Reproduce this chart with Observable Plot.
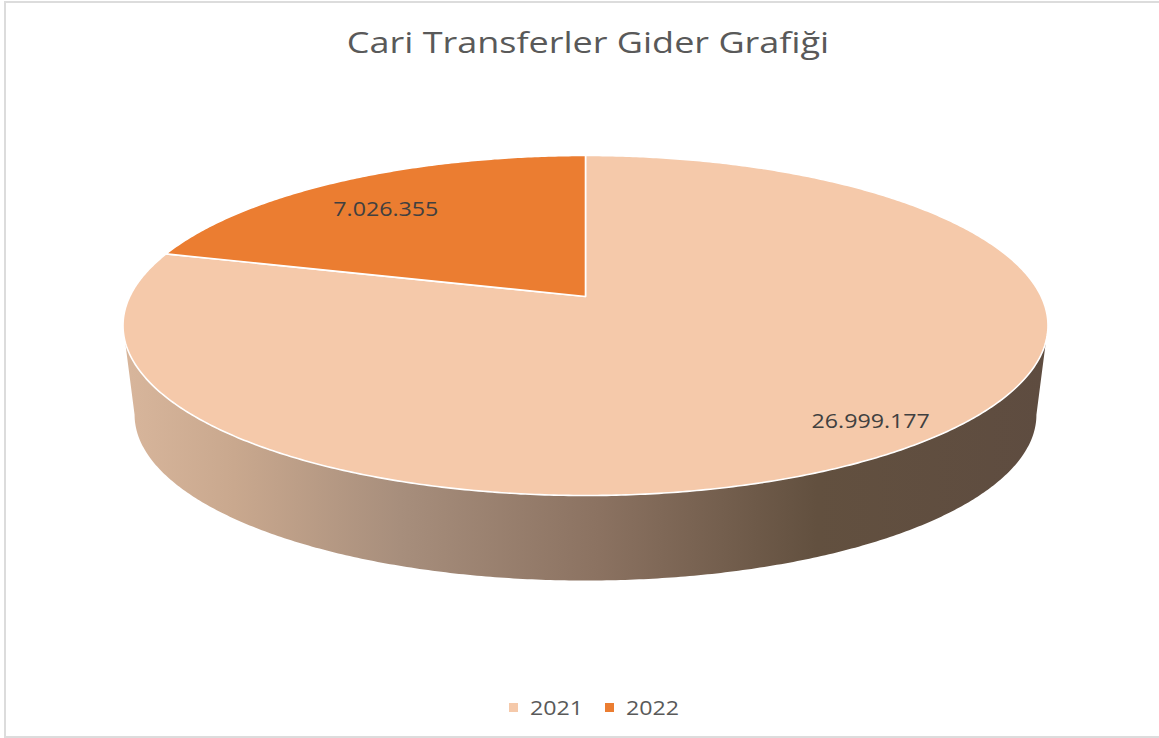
<!DOCTYPE html>
<html>
<head>
<meta charset="utf-8">
<script src="https://cdn.jsdelivr.net/npm/d3@7"></script>
<script src="https://cdn.jsdelivr.net/npm/@observablehq/plot@0.6"></script>
<style>
  html, body { margin: 0; padding: 0; background: #fff; overflow: hidden; }
  body { width: 1159px; height: 738px; position: relative; font-family: "Open Sans", sans-serif; }
  #frame { position: absolute; left: 4px; top: 1px; width: 1170px; height: 737px; border: 2px solid #dcdcdc; box-sizing: border-box; }
  #title { position: absolute; left: 588px; top: 27px; transform: translateX(-50%) scaleX(1.2); white-space: nowrap;
           font: 30px/30px "Open Sans", sans-serif; color: #595959; }
  #chart { position: absolute; left: 0; top: 80px; }
  .sw { position: absolute; top: 703px; width: 9px; height: 9px; }
  .lt { position: absolute; top: 698px; font: 19.5px/20px "Open Sans", sans-serif; color: #595959; transform: scaleX(1.19); transform-origin: left center; white-space: nowrap; }
</style>
</head>
<body>
<div id="frame"></div>
<div id="title">Cari Transferler Gider Grafiği</div>
<div id="chart"></div>
<div id="legend"></div>
<script>
// ---- data ----
const years = ["2021", "2022"];
const values = [26999177, 7026355];
const valueLabels = ["26.999.177", "7.026.355"];
const colors = ["#f5c9aa", "#eb7d31"];

// ---- layout / projection constants ----
const W = 1159, H = 600;
const S = 455.7;            // pixels per pie radius
const CX = 585, CY = 216;   // pie centre inside the svg
const K = -0.1706;          // perspective factor
const TILT = 0.3622;        // vertical squash of the pie plane
const DEPTH = 90 / S;       // thickness of the pie
const SHRINK = 0.975;       // bottom face slightly smaller (perspective)
const LABEL_R = [0.87, 0.754];
const LABEL_SHIFT = [-0.042, -0.044];

function project(u, v, bottom = false) {
  const w = 1 + K * v;
  const s = bottom ? SHRINK : 1;
  return {x: s * u / w, y: (bottom ? DEPTH : 0) + s * TILT * v / w};
}

const table = years.map((year, i) => ({year, value: values[i], label: valueLabels[i]}));
const arcs = d3.pie().sort(null).value(d => d.value)(table);
const STEP = Math.PI / 360;

function arcPoints(a0, a1, bottom, extra) {
  const n = Math.max(2, Math.ceil(Math.abs(a1 - a0) / STEP));
  const pts = [];
  for (let j = 0; j <= n; j++) {
    const t = a0 + (a1 - a0) * j / n;
    pts.push({...extra, ...project(Math.sin(t), -Math.cos(t), bottom)});
  }
  return pts;
}

const slicePts = arcs.flatMap(a => [
  {year: a.data.year, ...project(0, 0)},
  ...arcPoints(a.startAngle, a.endAngle, false, {year: a.data.year})
]);

const t0 = Math.acos(K), t1 = 2 * Math.PI - t0;
const sidePts = [
  ...arcPoints(t0, t1, false, {}),
  ...arcPoints(t1, t0, true, {})
];

const labelPts = arcs.map((a, i) => {
  const t = (a.startAngle + a.endAngle) / 2 + LABEL_SHIFT[i];
  const r = LABEL_R[i];
  return {label: a.data.label, ...project(r * Math.sin(t), -r * Math.cos(t))};
});

const plot = Plot.plot({
  width: W, height: H,
  margin: 0,
  x: {domain: [-CX / S, (W - CX) / S], range: [0, W], axis: null},
  y: {domain: [-CY / S, (H - CY) / S], range: [0, H], axis: null},
  color: {domain: years, range: colors},
  style: {fontFamily: "Open Sans, sans-serif", background: "transparent", overflow: "visible"},
  marks: [
    Plot.line(sidePts, {x: "x", y: "y", fill: "url(#sideGrad)", stroke: "none", curve: "linear-closed"}),
    Plot.line(slicePts, {x: "x", y: "y", z: "year", fill: "year", stroke: "white", strokeWidth: 1.6, strokeLinejoin: "round", curve: "linear-closed"}),
    Plot.text(labelPts, {x: "x", y: "y", text: "label", fill: "#404040", fontSize: 19.5, textAnchor: "middle"})
  ]
});

const ns = "http://www.w3.org/2000/svg";
const defs = document.createElementNS(ns, "defs");
const grad = document.createElementNS(ns, "linearGradient");
grad.setAttribute("id", "sideGrad");
grad.setAttribute("x1", "0"); grad.setAttribute("x2", "1");
grad.setAttribute("y1", "0"); grad.setAttribute("y2", "0");
[[0, "#d8b69c"], [0.12, "#c9a88e"], [0.3, "#a78e7c"], [0.515, "#8b7261"], [0.75, "#62503f"], [1, "#5e4c40"]].forEach(([o, c]) => {
  const s = document.createElementNS(ns, "stop");
  s.setAttribute("offset", o);
  s.setAttribute("stop-color", c);
  grad.appendChild(s);
});
defs.appendChild(grad);
plot.insertBefore(defs, plot.firstChild);

document.getElementById("chart").appendChild(plot);

plot.querySelectorAll("text").forEach(t => {
  const w = t.getComputedTextLength();
  t.setAttribute("textLength", (w * 1.19).toFixed(1));
  t.setAttribute("lengthAdjust", "spacingAndGlyphs");
});

// legend
const legend = document.getElementById("legend");
const swX = [509, 605], txX = [530, 626];
years.forEach((y, i) => {
  const sw = document.createElement("div");
  sw.className = "sw"; sw.style.left = swX[i] + "px"; sw.style.background = colors[i];
  legend.appendChild(sw);
  const tx = document.createElement("div");
  tx.className = "lt"; tx.style.left = txX[i] + "px"; tx.textContent = y;
  legend.appendChild(tx);
});
</script>
</body>
</html>
